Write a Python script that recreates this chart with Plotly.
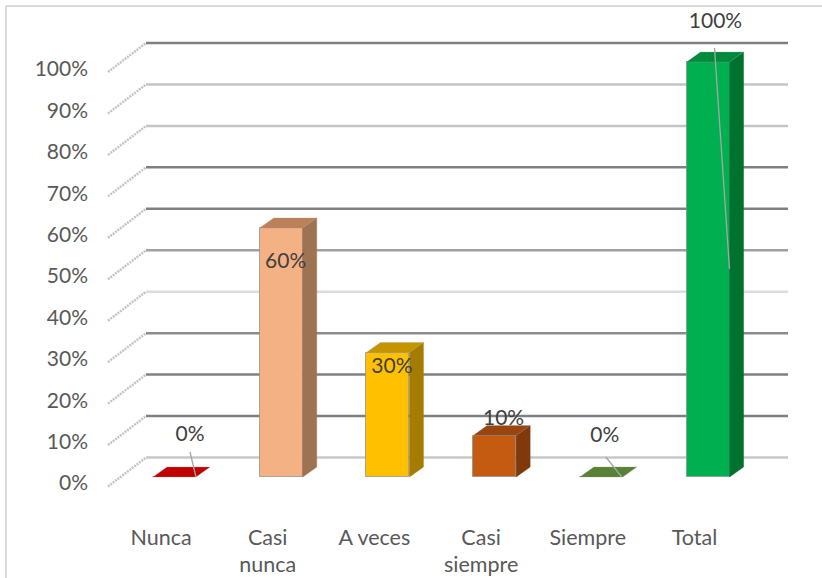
import plotly.graph_objects as go

# ---- data ----
categories = ["Nunca", "Casi<br>nunca", "A veces", "Casi<br>siempre", "Siempre", "Total"]
values = [0, 60, 30, 10, 0, 100]
value_labels = ["0%", "60%", "30%", "10%", "0%", "100%"]
y_ticks = [0, 10, 20, 30, 40, 50, 60, 70, 80, 90, 100]
y_tick_labels = ["0%", "10%", "20%", "30%", "40%", "50%", "60%", "70%", "80%", "90%", "100%"]

front_colors = ["#C00000", "#F4B183", "#FFC000", "#C55A11", "#548235", "#00B050"]
side_colors = ["#900000", "#9E7352", "#A67C00", "#80390B", "#3D5F27", "#00722F"]
top_colors = ["#C00000", "#BC8159", "#C59500", "#984510", "#5A8236", "#008A3E"]
grid_colors = ["#C8C8C8", "#808080", "#808080", "#8C8C8C", "#DCDCDC", "#A0A0A0",
               "#808080", "#808080", "#C4C4C4", "#C4C4C4", "#808080"]

# ---- geometry (pixels of the 822x578 page) ----
W, H = 822, 578
X0, X_STEP = 174.5, 106.7       # first bar centre, bar spacing
BAR_W = 43
FRONT_Y0, FRONT_K = 477, 4.15   # front plane: pixel of 0%, pixels per 1%
BACK_Y0, BACK_K = 457.5, 4.145  # back wall
LABEL_Y0, LABEL_K = 483, 4.14   # tick labels of the value axis
DEPTH_X, DEPTH_Y = 14, 10       # bar depth
WALL_DX, WALL_DY = 38, 29       # side wall
GRID_L, GRID_R = 146, 788


def xval(px):
    return (px - X0) / X_STEP


def yrange(y0, k):
    return [(y0 - H) / k, y0 / k]


dx = DEPTH_X / X_STEP
dv = DEPTH_Y / FRONT_K
half = BAR_W / 2 / X_STEP
idx = list(range(len(categories)))

fig = go.Figure()

# back wall grid lines and side wall (drawn on the base axes, under the bars)
for v, c in zip(y_ticks, grid_colors):
    fig.add_trace(go.Scatter(x=[xval(GRID_L), xval(GRID_R)], y=[v, v], mode="lines",
                             line=dict(color=c, width=2.5), hoverinfo="skip",
                             showlegend=False, xaxis="x", yaxis="y"))
    fig.add_trace(go.Scatter(x=[xval(GRID_L - WALL_DX), xval(GRID_L)],
                             y=[v - WALL_DY / BACK_K, v], mode="lines",
                             line=dict(color="#C4C4C4", width=2.5, dash="2px 1px"),
                             hoverinfo="skip", showlegend=False, xaxis="x", yaxis="y"))

# front faces
fig.add_trace(go.Bar(x=idx, y=values, width=BAR_W / X_STEP,
                     marker=dict(color=front_colors,
                                 line=dict(color="rgba(140,140,140,0.7)", width=1)),
                     showlegend=False, xaxis="x", yaxis="y2"))

# side and top faces
for i, v in enumerate(values):
    if v > 0:
        fig.add_trace(go.Scatter(
            x=[i + half, i + half + dx, i + half + dx, i + half, i + half],
            y=[0, dv, v + dv, v, 0], mode="lines", fill="toself",
            fillcolor=side_colors[i], line=dict(color=side_colors[i], width=0.5),
            hoverinfo="skip", showlegend=False, xaxis="x", yaxis="y2"))
    fig.add_trace(go.Scatter(
        x=[i - half, i + half, i + half + dx, i - half + dx, i - half],
        y=[v, v, v + dv, v + dv, v], mode="lines", fill="toself",
        fillcolor=top_colors[i], line=dict(color="rgba(150,150,150,0.6)", width=0.5),
        hoverinfo="skip", showlegend=False, xaxis="x", yaxis="y2"))

# data labels: offsets (px) from the top front of each bar's centre
label_dx = [15.5, 4.5, 4, 9, 3.5, 7.5]
label_dy = [41, -35, -15, 15.5, 40.5, 39]
label_x = [i + d / X_STEP for i, d in zip(idx, label_dx)]
label_y = [v + d / FRONT_K for v, d in zip(values, label_dy)]

# leader lines
leaders = [(0, 15.5, 25, 21.5, 0), (4, 4.5, 20, 20.5, 0), (5, 6.5, 14, 21.5, -207)]
for i, x1, y1, x2, y2 in leaders:
    fig.add_trace(go.Scatter(
        x=[i + x1 / X_STEP, i + x2 / X_STEP],
        y=[values[i] + y1 / FRONT_K, values[i] + y2 / FRONT_K],
        mode="lines", line=dict(color="#A6A6A6", width=1.3),
        hoverinfo="skip", showlegend=False, xaxis="x", yaxis="y2"))

fig.add_trace(go.Scatter(x=label_x, y=label_y, text=value_labels, mode="text",
                         textposition="middle center",
                         textfont=dict(family="Lato", size=21, color="#404040"),
                         cliponaxis=False, hoverinfo="skip", showlegend=False,
                         xaxis="x", yaxis="y2"))

# invisible carrier that displays the shifted tick labels
fig.add_trace(go.Scatter(x=idx, y=values, mode="markers", marker=dict(opacity=0),
                         hoverinfo="skip", showlegend=False, xaxis="x2", yaxis="y3"))

plain = dict(showgrid=False, zeroline=False, showline=False, ticks="", automargin=False)

fig.update_layout(
    width=W, height=H, margin=dict(l=0, r=0, t=0, b=0), autosize=False,
    paper_bgcolor="white", plot_bgcolor="white", showlegend=False, bargap=0,
    xaxis=dict(range=[xval(0), xval(W)], domain=[0, 1], showticklabels=False, **plain),
    xaxis2=dict(range=[xval(13.5), xval(W + 13.5)], domain=[0, 1], overlaying="x",
                anchor="free", position=1 - 522 / H, side="bottom",
                tickmode="array", tickvals=idx, ticktext=categories,
                tickfont=dict(family="Lato", size=21.5, color="#595959"), tickangle=0, **plain),
    yaxis=dict(range=yrange(BACK_Y0, BACK_K), domain=[0, 1], showticklabels=False, **plain),
    yaxis2=dict(range=yrange(FRONT_Y0, FRONT_K), domain=[0, 1], overlaying="y",
                showticklabels=False, **plain),
    yaxis3=dict(range=yrange(LABEL_Y0, LABEL_K), domain=[0, 1], overlaying="y",
                anchor="free", position=88 / W, side="left",
                tickmode="array", tickvals=y_ticks, ticktext=y_tick_labels,
                tickfont=dict(family="Lato", size=21, color="#595959"), **plain),
    shapes=[
        dict(type="line", xref="paper", yref="paper", x0=6 / W, x1=1, y0=1 - 6 / H, y1=1 - 6 / H,
             line=dict(color="#D9D9D9", width=2)),
        dict(type="line", xref="paper", yref="paper", x0=6 / W, x1=6 / W, y0=0, y1=1 - 6 / H,
             line=dict(color="#D9D9D9", width=2)),
    ],
)

fig.write_html("out.html", config=dict(displayModeBar=False),
               post_script="document.body.style.margin='0';document.body.style.overflow='hidden';")
